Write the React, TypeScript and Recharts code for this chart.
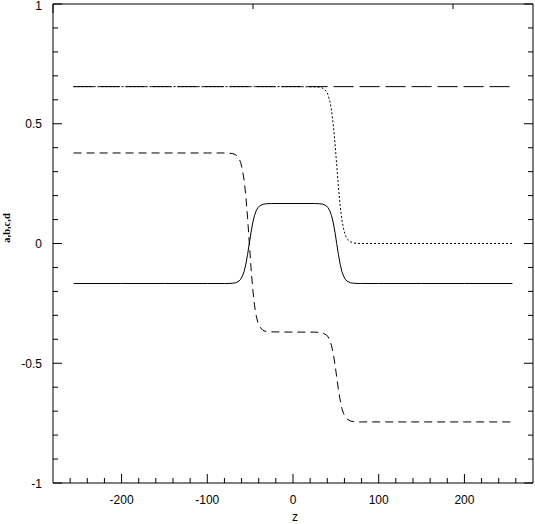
import React from 'react';
import { LineChart, Line, XAxis, YAxis, Label } from 'recharts';

// sample positions along z
const zs = [
  -256, -200, -150, -100, -80,
  -77, -71, -67, -63, -61, -59, -57, -55, -53, -51, -49, -47, -45, -43, -41, -39, -35, -31, -25,
  0,
  25, 31, 35, 39, 41, 43, 45, 47, 49, 51, 53, 55, 57, 59, 61, 63, 67, 71, 77,
  80, 100, 150, 200, 256,
];

const aVals = [
  -0.167, -0.167, -0.167, -0.167, -0.167,
  -0.167, -0.166, -0.164, -0.157, -0.149, -0.136, -0.116, -0.086, -0.046, 0.0, 0.046, 0.086, 0.116, 0.136, 0.149, 0.157, 0.164, 0.166, 0.167,
  0.167,
  0.167, 0.166, 0.164, 0.157, 0.149, 0.136, 0.116, 0.086, 0.046, 0.0, -0.046, -0.086, -0.116, -0.136, -0.149, -0.157, -0.164, -0.166, -0.167,
  -0.167, -0.167, -0.167, -0.167, -0.167,
];

const bVals = [
  0.378, 0.378, 0.378, 0.378, 0.378,
  0.377, 0.376, 0.371, 0.355, 0.338, 0.308, 0.264, 0.197, 0.108, 0.004, -0.1, -0.189, -0.256, -0.3, -0.33, -0.347, -0.363, -0.368, -0.369,
  -0.37,
  -0.37, -0.371, -0.374, -0.382, -0.39, -0.405, -0.427, -0.461, -0.505, -0.558, -0.61, -0.654, -0.688, -0.71, -0.725, -0.733, -0.741, -0.744, -0.745,
  -0.745, -0.745, -0.745, -0.745, -0.745,
];

const dVals = [
  0.655, 0.655, 0.655, 0.655, 0.655,
  0.655, 0.655, 0.655, 0.655, 0.655, 0.655, 0.655, 0.655, 0.655, 0.655, 0.655, 0.655, 0.655, 0.655, 0.655, 0.655, 0.655, 0.655, 0.655,
  0.655,
  0.654, 0.653, 0.648, 0.635, 0.62, 0.594, 0.555, 0.496, 0.419, 0.328, 0.236, 0.159, 0.1, 0.061, 0.035, 0.02, 0.007, 0.002, 0.0,
  0.0, 0.0, 0.0, 0.0, 0.0,
];

// c is flat, only needs its two ends
const cZs = [-256, 256];
const cVals = [0.655, 0.655];

const xTicks = [
  -260, -240, -220, -200, -180, -160, -140, -120, -100, -80, -60, -40, -20, 0,
  20, 40, 60, 80, 100, 120, 140, 160, 180, 200, 220, 240, 260,
];
const yTicks = [
  -1, -0.9, -0.8, -0.7, -0.6, -0.5, -0.4, -0.3, -0.2, -0.1, 0,
  0.1, 0.2, 0.3, 0.4, 0.5, 0.6, 0.7, 0.8, 0.9, 1,
];
const xLabels = [-200, -100, 0, 100, 200];
const yLabels = [-1, -0.5, 0, 0.5, 1];

const data = zs.map((z, i) => ({ z, a: aVals[i], b: bVals[i], d: dVals[i] }));
const cData = cZs.map((z, i) => ({ z, c: cVals[i] }));

const FONT = '"Liberation Sans", Arial, sans-serif';
const isMajorX = (v: number) => xLabels.includes(v);
const isMajorY = (v: number) => yLabels.some((l) => Math.abs(l - v) < 1e-6);

const BottomTick = (props: any) => {
  const { x, y, payload } = props;
  const major = isMajorX(payload.value);
  return (
    <g>
      <line x1={x} y1={y} x2={x} y2={y - (major ? 9 : 5)} stroke="#000" />
      {major && (
        <text x={x} y={y + 21} textAnchor="middle" fontSize={12} fontFamily={FONT} fill="#000">
          {payload.value}
        </text>
      )}
    </g>
  );
};

const TopTick = (props: any) => {
  const { x, y, payload } = props;
  const major = isMajorX(payload.value);
  return <line x1={x} y1={y} x2={x} y2={y + (major ? 9 : 5)} stroke="#000" />;
};

const LeftTick = (props: any) => {
  const { x, y, payload } = props;
  const major = isMajorY(payload.value);
  // top label sits a touch lower so it is not clipped
  const dy = payload.value === 1 ? 5.5 : 4.5;
  return (
    <g>
      <line x1={x} y1={y} x2={x + (major ? 9 : 5)} y2={y} stroke="#000" />
      {major && (
        <text x={x - 11} y={y + dy} textAnchor="end" fontSize={12} fontFamily={FONT} fill="#000">
          {payload.value}
        </text>
      )}
    </g>
  );
};

const RightTick = (props: any) => {
  const { x, y, payload } = props;
  const major = isMajorY(payload.value);
  return <line x1={x} y1={y} x2={x - (major ? 9 : 5)} y2={y} stroke="#000" />;
};

export default function App() {
  return (
    <div style={{ position: 'absolute', left: 0, top: 0, background: '#fff' }}>
      <LineChart width={535} height={524} data={data} margin={{ top: 0, right: 0, bottom: 0, left: 0 }}>
        <XAxis
          dataKey="z"
          type="number"
          domain={[-280, 280]}
          ticks={xTicks}
          interval={0}
          height={41}
          tickLine={false}
          tickSize={0}
          tickMargin={0}
          tick={<BottomTick />}
          axisLine={{ stroke: '#000' }}
          allowDataOverflow
        >
          <Label
            content={() => (
              <text x={295} y={521} textAnchor="middle" fontSize={12} fontFamily={FONT} fill="#000">
                z
              </text>
            )}
          />
        </XAxis>
        <XAxis
          xAxisId="top"
          orientation="top"
          type="number"
          domain={[-280, 280]}
          ticks={xTicks}
          interval={0}
          height={4}
          tickLine={false}
          tickSize={0}
          tickMargin={0}
          tick={<TopTick />}
          axisLine={{ stroke: '#000' }}
          allowDataOverflow
        />
        <YAxis
          type="number"
          domain={[-1, 1]}
          ticks={yTicks}
          interval={0}
          width={53}
          tickLine={false}
          tickSize={0}
          tickMargin={0}
          tick={<LeftTick />}
          axisLine={{ stroke: '#000' }}
          allowDataOverflow
        >
          <Label
            content={() => (
              <text
                x={10}
                y={228}
                transform="rotate(-90 10 228)"
                textAnchor="middle"
                fontSize={10.5}
                fontWeight="bold"
                fontFamily='"Liberation Serif", "Times New Roman", serif'
                fill="#000"
              >
                a,b,c,d
              </text>
            )}
          />
        </YAxis>
        <YAxis
          yAxisId="right"
          orientation="right"
          type="number"
          domain={[-1, 1]}
          ticks={yTicks}
          interval={0}
          width={2}
          tickLine={false}
          tickSize={0}
          tickMargin={0}
          tick={<RightTick />}
          axisLine={{ stroke: '#000' }}
          allowDataOverflow
        />
        <Line data={cData} dataKey="c" stroke="#000" strokeWidth={1} strokeDasharray="20 6" dot={false} isAnimationActive={false} type="linear" />
        <Line dataKey="d" stroke="#000" strokeWidth={1} strokeDasharray="2 2" dot={false} isAnimationActive={false} type="linear" />
        <Line dataKey="b" stroke="#000" strokeWidth={1} strokeDasharray="8 5" dot={false} isAnimationActive={false} type="linear" />
        <Line dataKey="a" stroke="#000" strokeWidth={1} dot={false} isAnimationActive={false} type="linear" />
      </LineChart>
    </div>
  );
}
